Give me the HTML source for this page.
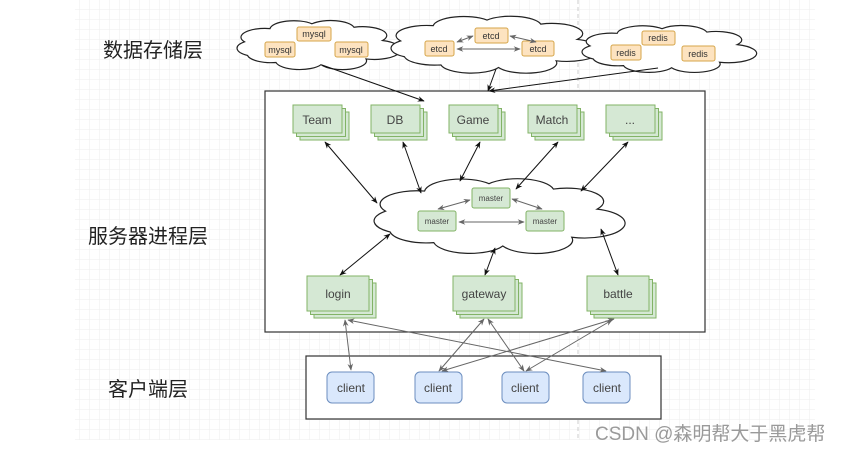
<!DOCTYPE html>
<html><head><meta charset="utf-8"><style>
html,body{margin:0;padding:0;background:#fff;}
svg{display:block;}
text{font-family:"Liberation Sans","Noto Sans CJK SC",sans-serif;}
</style></head><body>
<svg id="s" width="842" height="451" viewBox="0 0 842 451" xmlns="http://www.w3.org/2000/svg">
<defs>
<pattern id="g" width="10" height="10" patternUnits="userSpaceOnUse"><path d="M10 0V10H0" fill="none" stroke="#eeeeee" stroke-width="1"/></pattern>
<marker id="a" viewBox="0 0 10 10" refX="9" refY="5" markerWidth="7" markerHeight="7" orient="auto-start-reverse"><path d="M0,1 L10,5 L0,9 L3,5z" fill="#111"/></marker>
<marker id="ag" viewBox="0 0 10 10" refX="9" refY="5" markerWidth="7" markerHeight="7" orient="auto-start-reverse"><path d="M0,1 L10,5 L0,9 L3,5z" fill="#666"/></marker>
</defs>
<rect x="75" y="0" width="740" height="440" fill="url(#g)"/>
<line x1="578" y1="0" x2="578" y2="440" stroke="#ccc" stroke-dasharray="4,3"/>
<g id="clouds" fill="#fff" stroke="#222" stroke-width="1.2"></g>

<g font-size="20" fill="#222">
<text x="103" y="57">数据存储层</text>
<text x="88" y="243">服务器进程层</text>
<text x="108" y="396">客户端层</text>
</g>

<rect x="265" y="91" width="440" height="241" fill="#fff" stroke="#333" stroke-width="1.2"/>
<rect x="306" y="356" width="355" height="63" fill="#fff" stroke="#333" stroke-width="1.2"/>
<g id="clouds2" fill="#fff" stroke="#222" stroke-width="1.2"></g>

<g fill="#fde3c0" stroke="#d6a64a" stroke-width="1">
<rect x="297" y="27" width="34" height="14" rx="2"/><rect x="265" y="42" width="30" height="15" rx="2"/><rect x="335" y="42" width="33" height="15" rx="2"/>
<rect x="475" y="28" width="33" height="15" rx="2"/><rect x="425" y="41" width="29" height="15" rx="2"/><rect x="522" y="41" width="32" height="15" rx="2"/>
<rect x="642" y="31" width="33" height="14" rx="2"/><rect x="611" y="45" width="30" height="15" rx="2"/><rect x="682" y="46" width="33" height="15" rx="2"/>
</g>
<g font-size="9" fill="#333" text-anchor="middle">
<text x="314" y="37">mysql</text><text x="280" y="53">mysql</text><text x="351" y="53">mysql</text>
<text x="491" y="39">etcd</text><text x="439" y="52">etcd</text><text x="538" y="52">etcd</text>
<text x="658" y="41">redis</text><text x="626" y="56">redis</text><text x="698" y="57">redis</text>
</g>
<g stroke="#666" stroke-width="1" marker-start="url(#ag)" marker-end="url(#ag)">
<line x1="457" y1="42" x2="473" y2="36"/><line x1="510" y1="36" x2="536" y2="42"/><line x1="457" y1="49" x2="520" y2="49"/>
</g>

<g id="stacks" fill="#d5e8d4" stroke="#82b366" stroke-width="1"></g>
<g font-size="12" fill="#444" text-anchor="middle">
<text x="317" y="124">Team</text><text x="395" y="124">DB</text><text x="473" y="124">Game</text><text x="552" y="124">Match</text><text x="630" y="124">...</text>
<text x="338" y="298">login</text><text x="484" y="298">gateway</text><text x="618" y="298">battle</text>
</g>

<g fill="#d5e8d4" stroke="#82b366" stroke-width="1">
<rect x="472" y="188" width="38" height="20" rx="2"/><rect x="418" y="211" width="38" height="20" rx="2"/><rect x="526" y="211" width="38" height="20" rx="2"/>
</g>
<g font-size="8" fill="#444" text-anchor="middle">
<text x="491" y="201">master</text><text x="437" y="224">master</text><text x="545" y="224">master</text>
</g>
<g stroke="#666" stroke-width="1" marker-start="url(#ag)" marker-end="url(#ag)">
<line x1="470" y1="200" x2="438" y2="209"/><line x1="512" y1="199" x2="542" y2="209"/><line x1="459" y1="222" x2="524" y2="222"/>
</g>

<g fill="#dae8fc" stroke="#6c8ebf" stroke-width="1">
<rect x="327" y="372" width="47" height="31" rx="5"/><rect x="415" y="372" width="47" height="31" rx="5"/><rect x="502" y="372" width="47" height="31" rx="5"/><rect x="583" y="372" width="47" height="31" rx="5"/>
</g>
<g font-size="12" fill="#444" text-anchor="middle">
<text x="351" y="392">client</text><text x="438" y="392">client</text><text x="525" y="392">client</text><text x="607" y="392">client</text>
</g>

<g stroke="#111" stroke-width="1" fill="none">
<line x1="325" y1="142" x2="377" y2="203" marker-start="url(#a)" marker-end="url(#a)"/>
<line x1="403" y1="142" x2="421" y2="193" marker-start="url(#a)" marker-end="url(#a)"/>
<line x1="480" y1="142" x2="460" y2="181" marker-start="url(#a)" marker-end="url(#a)"/>
<line x1="558" y1="142" x2="516" y2="189" marker-start="url(#a)" marker-end="url(#a)"/>
<line x1="628" y1="142" x2="581" y2="191" marker-start="url(#a)" marker-end="url(#a)"/>
<line x1="340" y1="275" x2="390" y2="234" marker-start="url(#a)" marker-end="url(#a)"/>
<line x1="485" y1="275" x2="495" y2="248" marker-start="url(#a)" marker-end="url(#a)"/>
<line x1="618" y1="275" x2="601" y2="229" marker-start="url(#a)" marker-end="url(#a)"/>
<line x1="322" y1="65" x2="424" y2="101" marker-end="url(#a)"/>
<line x1="496" y1="69" x2="488" y2="91" marker-end="url(#a)"/>
<line x1="658" y1="68" x2="489" y2="91" marker-end="url(#a)"/>
</g>
<g stroke="#666" stroke-width="1" marker-start="url(#ag)" marker-end="url(#ag)">
<line x1="345" y1="320" x2="351" y2="370"/>
<line x1="348" y1="320" x2="606" y2="371"/>
<line x1="484" y1="319" x2="439" y2="371"/>
<line x1="488" y1="319" x2="524" y2="371"/>
<line x1="614" y1="319" x2="442" y2="371"/>
<line x1="612" y1="320" x2="526" y2="371"/>
</g>

<text x="595" y="440" font-size="19" fill="#9a9a9a">CSDN @森明帮大于黑虎帮</text>
</svg>
<script>
function cloud(x,y,w,h){
 var p=[[.05,.45],[.22,.15],[.5,.04],[.78,.12],[.97,.42],[.86,.84],[.56,.97],[.26,.92],[.07,.76]];
 var d="M"+(x+p[0][0]*w)+","+(y+p[0][1]*h);
 for(var i=1;i<=p.length;i++){var q=p[i%p.length];d+=" A"+(0.16*w)+","+(0.2*h)+" 0 0 1 "+(x+q[0]*w)+","+(y+q[1]*h);}
 return '<path d="'+d+' Z"/>';
}
document.getElementById("clouds").innerHTML=cloud(237,22,150,44)+cloud(391,18,192,51)+cloud(582,27,160,42);
document.getElementById("clouds2").innerHTML=cloud(374,181,230,67);
var s="";
[[293,105,49,28],[371,105,49,28],[449,105,49,28],[528,105,49,28],[606,105,49,28],[307,276,62,35],[453,276,62,35],[587,276,62,35]].forEach(function(b){
 for(var k=2;k>=0;k--){s+='<rect x="'+(b[0]+k*3.5)+'" y="'+(b[1]+k*3.5)+'" width="'+b[2]+'" height="'+b[3]+'"/>';}
});
document.getElementById("stacks").innerHTML=s;
</script>
</body></html>
